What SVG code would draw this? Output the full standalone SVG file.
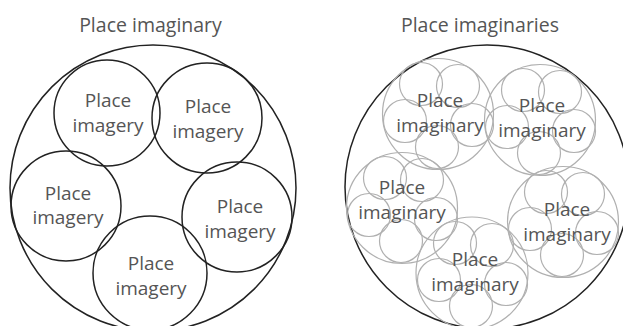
<svg xmlns="http://www.w3.org/2000/svg" xmlns:xlink="http://www.w3.org/1999/xlink" width="623" height="326" viewBox="0 0 623 326">
<style>
  text { font-family: "Open Sans", "Liberation Sans", sans-serif; font-size: 19px; fill: #555; text-anchor: middle; }
  .title { font-size: 19.5px; }
  .dark { fill: none; stroke: #222; stroke-width: 1.5; }
  .gray { fill: none; stroke: #b0b0b0; stroke-width: 1.2; }
</style>
<defs>
  <g id="mini">
    <circle class="gray" cx="-17" cy="-30" r="21.5"/>
    <circle class="gray" cx="20" cy="-28" r="21.5"/>
    <circle class="gray" cx="-33" cy="7" r="21.5"/>
    <circle class="gray" cx="34" cy="11" r="21.5"/>
    <circle class="gray" cx="-1" cy="33" r="21.5"/>
  </g>
</defs>
<rect width="623" height="326" fill="#fff"/>
<g id="connectors"/>

<g id="left-diagram">
  <text class="title" x="150.5" y="32">Place imaginary</text>
  <circle id="left-outer" class="dark" cx="153" cy="188" r="143"/>
  <g id="imagery-1">
    <circle class="dark" cx="107" cy="113" r="53"/>
    <text x="108" y="107">Place</text>
    <text x="108" y="132">imagery</text>
  </g>
  <g id="imagery-2">
    <circle class="dark" cx="207" cy="118" r="55"/>
    <text x="208" y="113">Place</text>
    <text x="208" y="138">imagery</text>
  </g>
  <g id="imagery-3">
    <circle class="dark" cx="66" cy="206" r="55"/>
    <text x="68" y="200">Place</text>
    <text x="68" y="224">imagery</text>
  </g>
  <g id="imagery-4">
    <circle class="dark" cx="237" cy="217" r="55"/>
    <text x="240" y="213">Place</text>
    <text x="240" y="238">imagery</text>
  </g>
  <g id="imagery-5">
    <circle class="dark" cx="150" cy="273" r="57"/>
    <text x="151" y="270">Place</text>
    <text x="151" y="295">imagery</text>
  </g>
</g>

<g id="right-diagram">
  <text class="title" x="480" y="32">Place imaginaries</text>
  <circle id="right-outer" class="dark" cx="487" cy="187" r="142"/>
  <g id="imaginary-1">
    <circle class="gray" cx="438" cy="114" r="55.5"/>
    <use xlink:href="#mini" href="#mini" transform="translate(438,114)"/>
    <text x="440" y="107">Place</text>
    <text x="440" y="132">imaginary</text>
  </g>
  <g id="imaginary-2">
    <circle class="gray" cx="540" cy="120" r="55.5"/>
    <use xlink:href="#mini" href="#mini" transform="translate(540,120)"/>
    <text x="542" y="112">Place</text>
    <text x="542" y="137">imaginary</text>
  </g>
  <g id="imaginary-3">
    <circle class="gray" cx="402" cy="208" r="55.5"/>
    <use xlink:href="#mini" href="#mini" transform="translate(402,208)"/>
    <text x="402" y="194">Place</text>
    <text x="402" y="219">imaginary</text>
  </g>
  <g id="imaginary-4">
    <circle class="gray" cx="563" cy="222" r="55.5"/>
    <use xlink:href="#mini" href="#mini" transform="translate(563,222)"/>
    <text x="567" y="216">Place</text>
    <text x="567" y="241">imaginary</text>
  </g>
  <g id="imaginary-5">
    <circle class="gray" cx="472" cy="273" r="56"/>
    <use xlink:href="#mini" href="#mini" transform="translate(472,273)"/>
    <text x="475" y="266">Place</text>
    <text x="475" y="291">imaginary</text>
  </g>
</g>
</svg>
